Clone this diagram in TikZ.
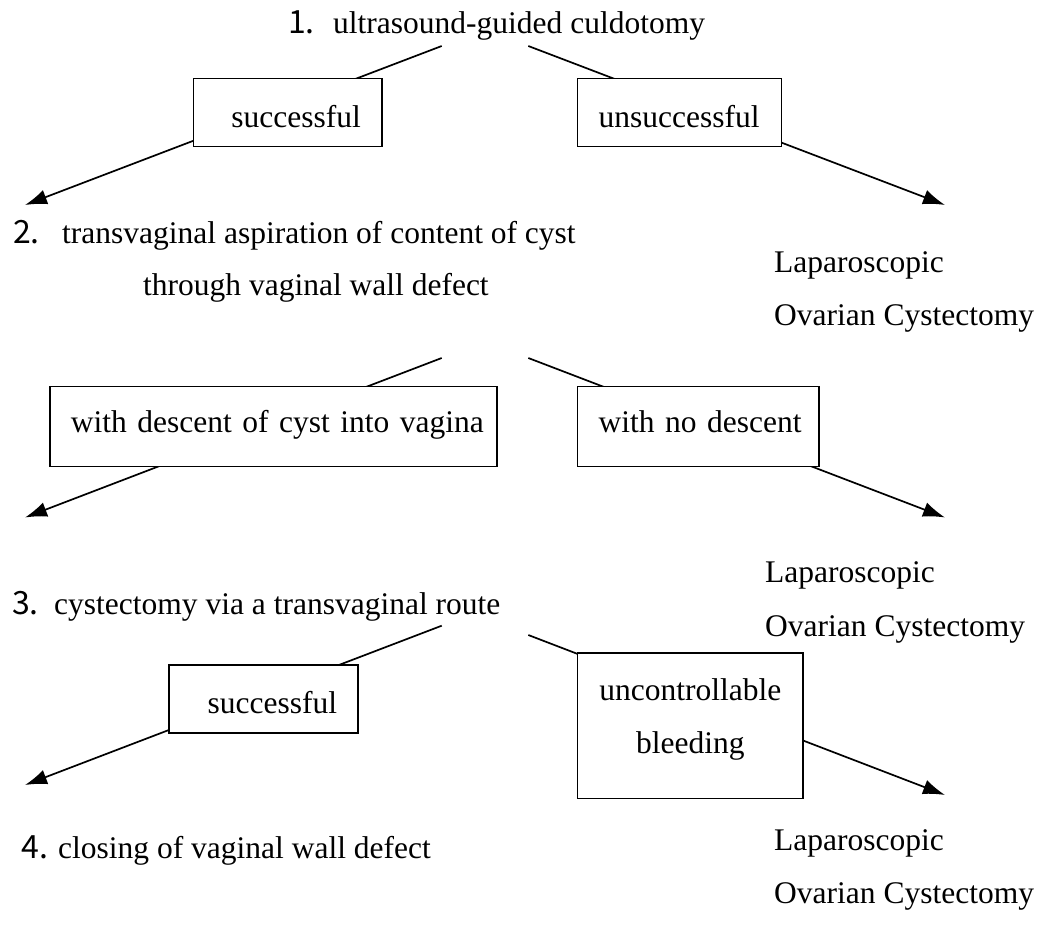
\documentclass[tikz,border=0pt]{standalone}
\usepackage{fontspec}
\setmainfont{Liberation Serif}
\newfontfamily\numfont{Noto Sans CJK JP}
\usetikzlibrary{arrows.meta}
\begin{document}
\begin{tikzpicture}[x=1pt,y=-1pt,
  every node/.style={font=\fontsize{31.5}{53}\selectfont},
  txt/.style={anchor=base west, inner sep=0pt},
  num/.style={anchor=base west, inner sep=0pt, font=\numfont\fontsize{32}{38}\selectfont},
  box/.style={draw, line width=1.7pt, fill=white, anchor=north west, inner xsep=21pt, inner ysep=0pt},
  conn/.style={line width=1.7pt, -{Latex[length=22pt,width=15pt]}}]
\useasboundingbox (0,0) rectangle (1044,924);

% connector end points
\coordinate (s1L) at (441.7,46);   \coordinate (e1L) at (25,205);
\coordinate (s1R) at (528.3,46);   \coordinate (e1R) at (945,205);
\coordinate (s2L) at (441.7,358);  \coordinate (e2L) at (25,517.5);
\coordinate (s2R) at (528.3,358);  \coordinate (e2R) at (945,517.5);
\coordinate (s3L) at (441.7,625.7);\coordinate (e3L) at (25,785);
\coordinate (s3R) at (528.3,635);  \coordinate (e3R) at (945,795);

\draw[conn] (s1L) -- (e1L);
\draw[conn] (s1R) -- (e1R);
\draw[conn] (s2L) -- (e2L);
\draw[conn] (s2R) -- (e2R);
\draw[conn] (s3L) -- (e3L);
\draw[conn] (s3R) -- (e3R);

% boxes
\node[box, text width=146.3pt, align=right, text height=49pt, text depth=19pt] (b1) at (192.7,77.7) {\mbox{successful}};
\node[box, text width=162pt, align=left, text height=49pt, text depth=19pt] (b2) at (576.7,77.7) {\mbox{unsuccessful}};
\node[box, text width=405pt, align=left, text height=46pt, text depth=34pt] (b3) at (49,385.7) {\mbox{with descent of cyst into vagina}};
\node[box, text width=199.6pt, align=left, text height=46pt, text depth=34pt] (b4) at (576.7,385.7) {\mbox{with no descent}};
\node[box, text width=147.3pt, align=right, text height=49pt, text depth=19pt] (b5) at (168,664) {\mbox{successful}};
\node[box, text width=183.6pt, align=center, text height=47.7pt, text depth=97.7pt] (b6) at (576.7,652.3) {\mbox{uncontrollable}\\bleeding};

% texts
\node[num] (n1) at (288,33) {1.};
\node[txt] (t1) at (333,33) {ultrasound-guided culdotomy};
\node[num] (n2) at (13,243) {2.};
\node[txt] (t2) at (62,243) {transvaginal aspiration of content of cyst};
\node[txt] (t2b) at (143,295) {through vaginal wall defect};
\node[txt] (r1a) at (774,272) {Laparoscopic};
\node[txt] (r1b) at (774,325) {Ovarian Cystectomy};
\node[num] (n3) at (12,614) {3.};
\node[txt] (t3) at (54,614) {cystectomy via a transvaginal route};
\node[txt] (r2a) at (765,582) {Laparoscopic};
\node[txt] (r2b) at (765,636) {Ovarian Cystectomy};
\node[num] (n4) at (21.7,858) {4.};
\node[txt] (t4) at (58,858) {closing of vaginal wall defect};
\node[txt] (r3a) at (774,850) {Laparoscopic};
\node[txt] (r3b) at (774,903) {Ovarian Cystectomy};
\end{tikzpicture}
\end{document}
